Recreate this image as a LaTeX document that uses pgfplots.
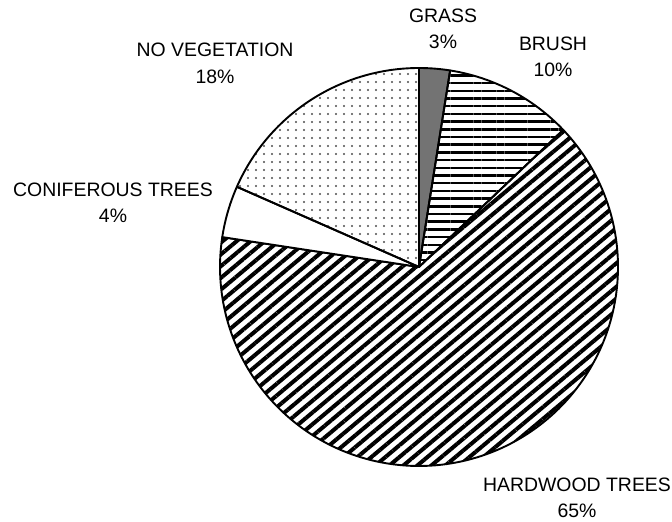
\documentclass[border=0pt]{standalone}
\usepackage{pgfplots}
\pgfplotsset{compat=1.18}
\usetikzlibrary{patterns.meta}
\usepackage{fontspec}
\setmainfont{Liberation Sans}

% shares of each category (percent), clockwise from 12 o'clock
\def\pGrass{2.5}
\def\pBrush{10.4}
\def\pHard{64.5}
\def\pConif{4.2}
\def\pNoVeg{18.4}

\pgfmathsetmacro\aA{90}
\pgfmathsetmacro\aB{\aA-3.6*\pGrass}
\pgfmathsetmacro\aC{\aB-3.6*\pBrush}
\pgfmathsetmacro\aD{\aC-3.6*\pHard}
\pgfmathsetmacro\aE{\aD-3.6*\pConif}
\pgfmathsetmacro\aF{\aE-3.6*\pNoVeg}

\begin{document}
\begin{tikzpicture}
\begin{axis}[
  x=200bp, y=200bp,
  xmin=-2.095, xmax=1.265, ymin=-1.275, ymax=1.335,
  hide axis, clip=false,
  every axis plot/.append style={draw=black, line width=1.9bp, line join=round},
]
% grass
\addplot[fill=black!55, samples=20, domain=\aB:\aA, variable=\t]
  ({0.995*cos(t)},{0.995*sin(t)}) -- (axis cs:0,0) -- cycle;
% brush
\addplot[pattern={Lines[angle=0,distance=7.7bp,line width=2.5bp]}, pattern color=black, samples=40, domain=\aC:\aB, variable=\t]
  ({0.995*cos(t)},{0.995*sin(t)}) -- (axis cs:0,0) -- cycle;
% hardwood
\addplot[pattern={Lines[angle=40,distance=9bp,line width=4bp]}, pattern color=black, samples=160, domain=\aD:\aC, variable=\t]
  ({0.995*cos(t)},{0.995*sin(t)}) -- (axis cs:0,0) -- cycle;
% coniferous
\addplot[fill=white, samples=20, domain=\aE:\aD, variable=\t]
  ({0.995*cos(t)},{0.995*sin(t)}) -- (axis cs:0,0) -- cycle;
% no vegetation
\addplot[pattern={Dots[distance=8bp,radius=1.1bp]}, pattern color=black!70, samples=60, domain=\aF:\aE, variable=\t]
  ({0.995*cos(t)},{0.995*sin(t)}) -- (axis cs:0,0) -- cycle;

\begin{scope}[every node/.style={align=center, font=\fontsize{19.5}{26.5}\selectfont, inner sep=0pt}]
\node at (axis cs:0.12,1.19) {GRASS\\3\%};
\node at (axis cs:0.67,1.05) {BRUSH\\10\%};
\node at (axis cs:-1.02,1.0175) {NO VEGETATION\\18\%};
\node at (axis cs:-1.53,0.32) {CONIFEROUS TREES\\4\%};
\node at (axis cs:0.79,-1.155) {HARDWOOD TREES\\65\%};
\end{scope}
\end{axis}
\pgfresetboundingbox
\useasboundingbox (current axis.south west) rectangle (current axis.north east);
\end{tikzpicture}
\end{document}
